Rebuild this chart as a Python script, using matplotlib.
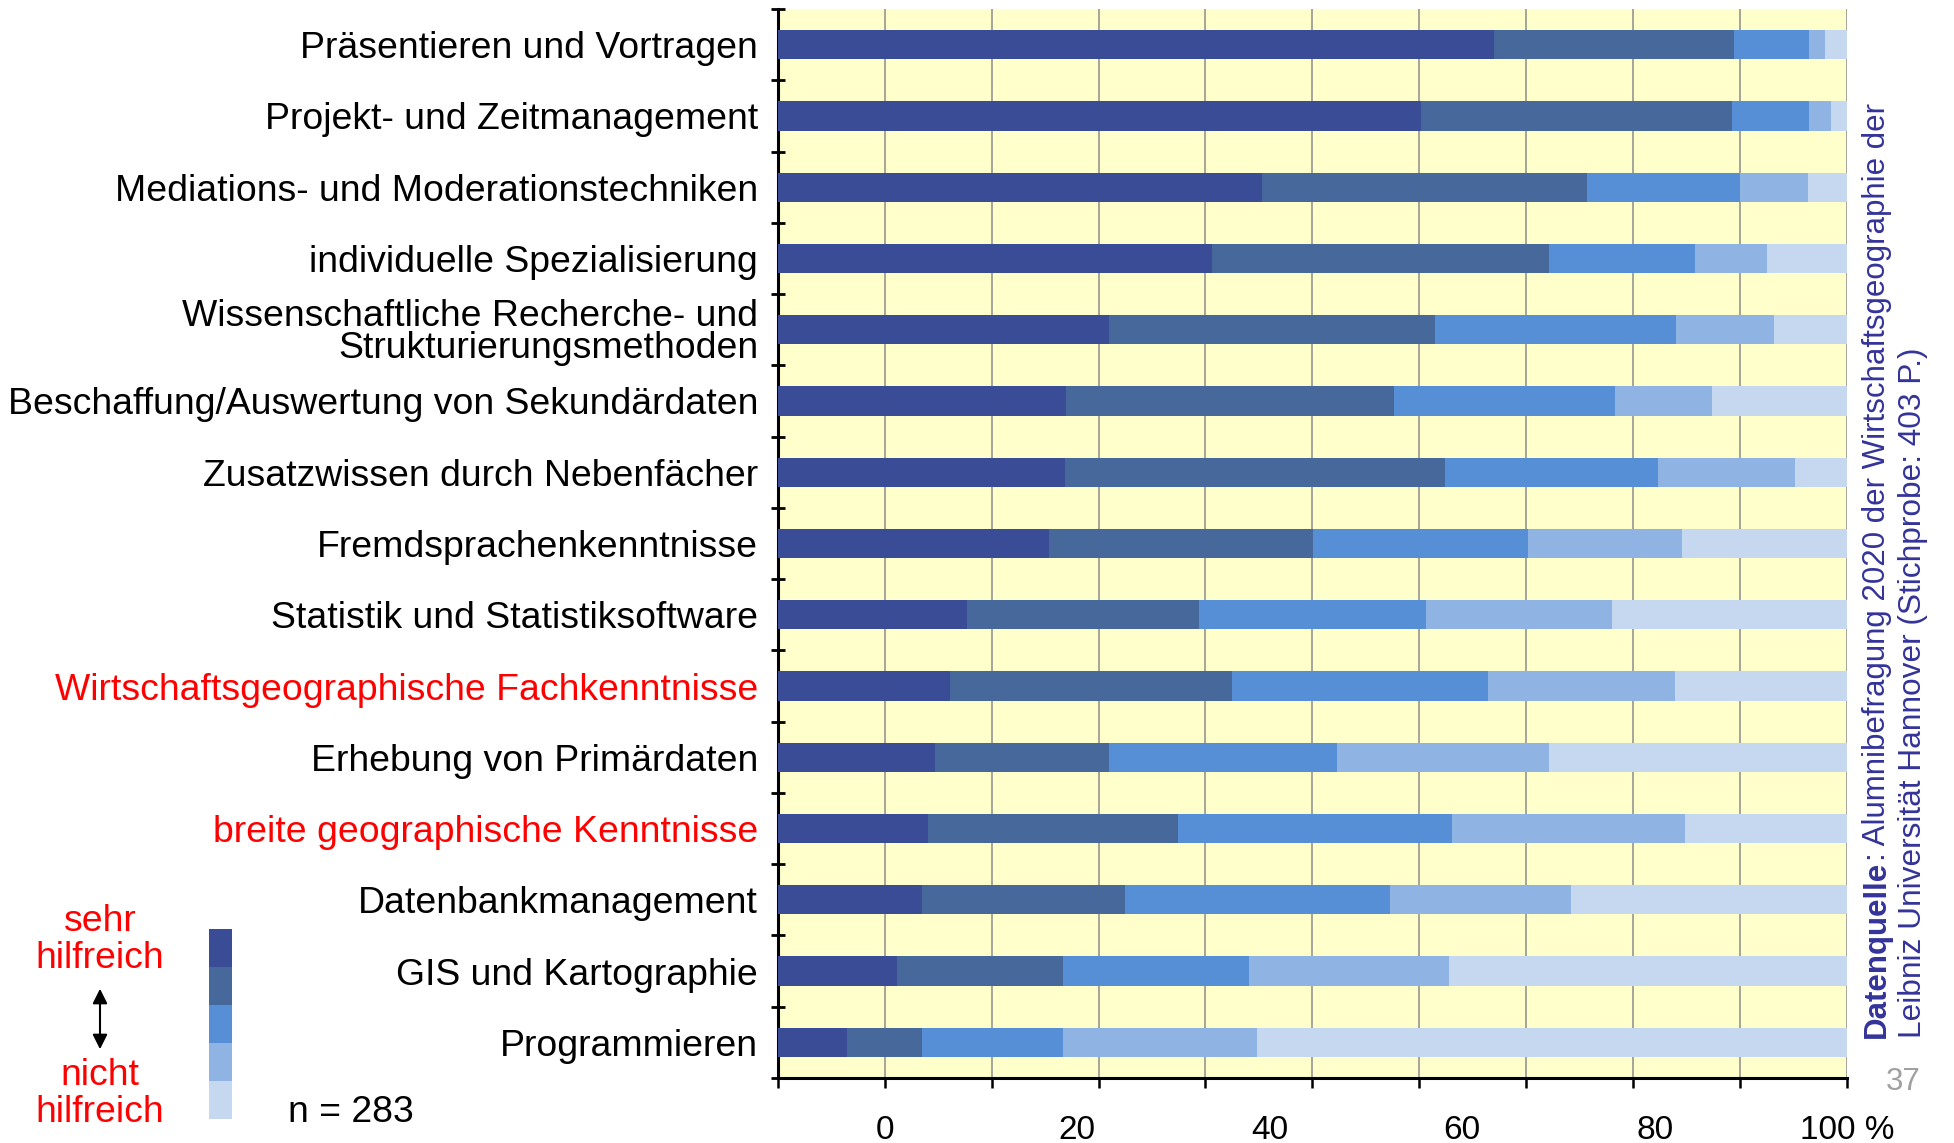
import matplotlib
matplotlib.use("Agg")
import matplotlib.pyplot as plt
import numpy as np

plt.rcParams['font.family'] = ['Liberation Sans', 'DejaVu Sans']

# Kategorien (von oben nach unten)
categories = [
    "Präsentieren und Vortragen",
    "Projekt- und Zeitmanagement",
    "Mediations- und Moderationstechniken",
    "individuelle Spezialisierung",
    "Wissenschaftliche Recherche- und\nStrukturierungsmethoden",
    "Beschaffung/Auswertung von Sekundärdaten",
    "Zusatzwissen durch Nebenfächer",
    "Fremdsprachenkenntnisse",
    "Statistik und Statistiksoftware",
    "Wirtschaftsgeographische Fachkenntnisse",
    "Erhebung von Primärdaten",
    "breite geographische Kenntnisse",
    "Datenbankmanagement",
    "GIS und Kartographie",
    "Programmieren",
]
red_labels = ["Wirtschaftsgeographische Fachkenntnisse",
              "breite geographische Kenntnisse"]

# Anteile in % (sehr hilfreich ... nicht hilfreich)
sehr_hilfreich = [67.0, 60.2, 45.3, 40.6, 31.0, 27.0, 26.9, 25.4, 17.7, 16.1, 14.7, 14.1, 13.5, 11.2, 6.5]
hilfreich      = [22.4, 29.0, 30.4, 31.5, 30.5, 30.6, 35.5, 24.7, 21.7, 26.4, 16.3, 23.3, 19.0, 15.5, 7.0]
teils          = [7.0, 7.2, 14.3, 13.7, 22.5, 20.7, 19.9, 20.1, 21.2, 23.9, 21.3, 25.7, 24.8, 17.4, 13.2]
wenig          = [1.5, 2.1, 6.3, 6.7, 9.2, 9.1, 12.8, 14.4, 17.4, 17.5, 19.8, 21.7, 16.9, 18.7, 18.1]
nicht_hilfreich = [2.1, 1.5, 3.7, 7.5, 6.8, 12.6, 4.9, 15.4, 22.0, 16.1, 27.9, 15.2, 25.8, 37.2, 55.2]

series = [sehr_hilfreich, hilfreich, teils, wenig, nicht_hilfreich]
colors = ['#394C95', '#46689A', '#568FD5', '#8FB3E3', '#C5D8F0']

grid_pos = list(range(0, 101, 10))
label_pos = [10, 28, 46, 64, 82, 100]
label_txt = ['0', '20', '40', '60', '80', '100 %']

fig = plt.figure(figsize=(19.54, 11.43), dpi=100)
ax = fig.add_axes([0.398, 0.0569, 0.5473, 0.9352])
ax.set_facecolor('#FFFFCC')

y = np.arange(len(categories))
left = np.zeros(len(categories))
for vals, c in zip(series, colors):
    ax.barh(y, vals, left=left, height=0.41, color=c, zorder=3)
    left += np.array(vals)

ax.set_xlim(0, 100)
ax.set_ylim(len(categories) - 0.5, -0.5)

# x-Achse: Gitter alle 10, Beschriftungen separat
ax.set_xticks(grid_pos)
ax.set_xticklabels([])
ax.xaxis.remove_overlapping_locs = False
ax.set_xticks(label_pos, minor=True)
ax.set_xticklabels(label_txt, minor=True, fontsize=24)
ax.tick_params(axis='x', which='major', direction='out', length=7, width=1.8, color='black')
ax.tick_params(axis='x', which='minor', length=0, pad=27)
ax.xaxis.grid(True, which='major', color='#8C8C8C', lw=1.1)
ax.set_axisbelow(True)

# y-Achse: Striche zwischen den Kategorien
ax.set_yticks(np.arange(-0.5, len(categories), 1.0))
ax.set_yticklabels([])
ax.set_yticks(y, minor=True)
ax.set_yticklabels(categories, minor=True, fontsize=26.9)
ax.tick_params(axis='y', which='major', direction='inout', length=10, width=2, color='black')
ax.tick_params(axis='y', which='minor', length=0, pad=14)
for lab in ax.get_yticklabels(minor=True):
    lab.set_linespacing(0.9)
    if lab.get_text() in red_labels:
        lab.set_color('red')

for s in ['top', 'right']:
    ax.spines[s].set_visible(False)
for s in ['left', 'bottom']:
    ax.spines[s].set_linewidth(2.2)
    ax.spines[s].set_color('black')

# Legende links unten
lax = fig.add_axes([209 / 1954, 1 - 1119 / 1143, 23 / 1954, 190 / 1143])
lax.bar([0] * 5, [1] * 5, bottom=[4, 3, 2, 1, 0], color=colors, width=1)
lax.set_xlim(-0.5, 0.5)
lax.set_ylim(0, 5)
lax.axis('off')

fig.text(100 / 1954, 1 - 940 / 1143, "sehr\nhilfreich", color='red', fontsize=26.9,
         ha='center', va='center', linespacing=1.05)
fig.text(100 / 1954, 1 - 1094 / 1143, "nicht\nhilfreich", color='red', fontsize=26.9,
         ha='center', va='center', linespacing=1.05)
ax.annotate('', xy=(100 / 1954, 1 - 1052 / 1143), xytext=(100 / 1954, 1 - 986 / 1143),
            xycoords='figure fraction', textcoords='figure fraction',
            arrowprops=dict(arrowstyle='<|-|>', color='black', lw=1.5, mutation_scale=22))
fig.text(288 / 1954, 1 - 1113 / 1143, "n = 283", fontsize=26.9, ha='left', va='center')

# Datenquelle rechts (gedreht)
src_color = '#333399'
y0 = 1 - 1038 / 1143
t1 = fig.text(1877 / 1954, y0, "Datenquelle", rotation=90, rotation_mode='anchor',
              ha='left', va='center', fontsize=22.5, fontweight='bold', color=src_color)
renderer = fig.canvas.get_renderer()
h = t1.get_window_extent(renderer).height / fig.bbox.height
fig.text(1877 / 1954, y0 + h, ": Alumnibefragung 2020 der Wirtschaftsgeographie der",
         rotation=90, rotation_mode='anchor', ha='left', va='center',
         fontsize=22.5, color=src_color)
fig.text(1913 / 1954, y0, "Leibniz Universität Hannover (Stichprobe: 403 P.)",
         rotation=90, rotation_mode='anchor', ha='left', va='center',
         fontsize=22.8, color=src_color)

fig.text(1903 / 1954, 1 - 1082 / 1143, "37", color='#A0A0A0', fontsize=22.5,
         ha='center', va='center')

fig.savefig('out.png', dpi=100)
